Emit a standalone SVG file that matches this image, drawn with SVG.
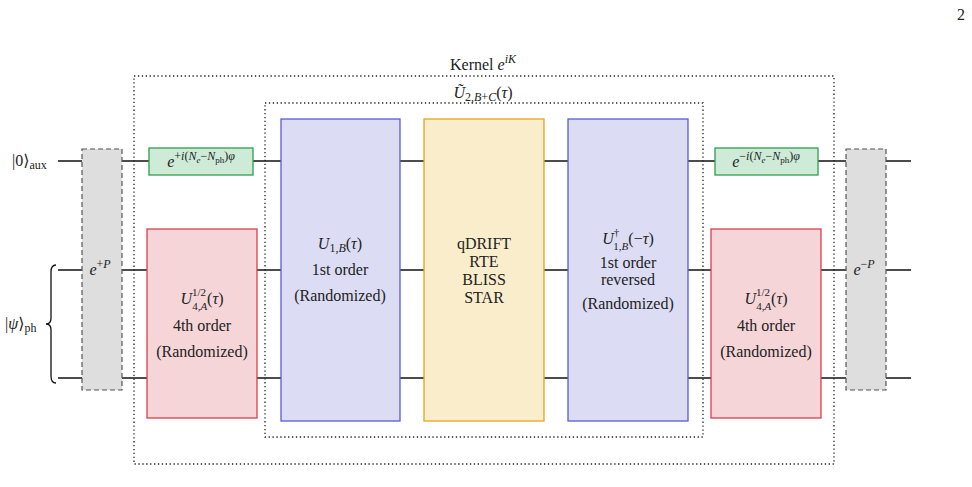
<svg xmlns="http://www.w3.org/2000/svg" width="972" height="487" viewBox="0 0 972 487" font-family="'Liberation Serif', 'DejaVu Serif', serif">
<style>
text{font-family:'Liberation Serif','DejaVu Serif',serif;fill:#222;}
.t{font-size:16px;text-anchor:middle;}
.m{font-style:italic;}
.s{font-size:12px;}
.s2{font-size:11px;}
.ss{font-size:9px;}
.wire{stroke:#111;stroke-width:1.3;fill:none;}
.dot{fill:none;stroke:#222;stroke-width:1.3;stroke-dasharray:1.3 2.6;}
.gray{fill:#dedede;stroke:#555;stroke-width:1.2;stroke-dasharray:5 3;}
.green{fill:#cdebd7;stroke:#2e9e50;stroke-width:1.3;}
.red{fill:#f6d5d9;stroke:#d8404e;stroke-width:1.3;}
.blue{fill:#dcddf4;stroke:#5a5ad4;stroke-width:1.3;}
.yellow{fill:#faedcc;stroke:#e5a41c;stroke-width:1.3;}
</style>
<text x="957" y="20" font-family="'Liberation Serif', serif" style="font-size:16px">2</text>
<g id="connectors">
<line class="wire" x1="58" y1="161" x2="911" y2="161"/>
<line class="wire" x1="58" y1="270" x2="911" y2="270"/>
<line class="wire" x1="58" y1="378" x2="911" y2="378"/>
<path class="wire" d="M56,265 Q51,265 51,272 L51,318 Q51,324 46,324 Q51,324 51,330 L51,376 Q51,383 56,383" stroke-width="1.2"/>
</g>
<g id="labels">
<text x="12" y="166" font-family="'Liberation Serif', serif" style="font-size:16px">|0⟩<tspan class="s" dy="3">aux</tspan></text>
<text x="5" y="329" font-family="'Liberation Serif', serif" style="font-size:16px">|<tspan class="m">ψ</tspan>⟩<tspan class="s" dy="3">ph</tspan></text>
</g>
<g id="kernel">
<rect class="dot" x="134" y="76" width="700" height="388"/>
<text class="t" x="483" y="70" font-family="'Liberation Serif', serif">Kernel <tspan class="m">e</tspan><tspan class="s m" dy="-7">iK</tspan></text>
</g>
<g id="u2">
<rect class="dot" x="265" y="103" width="438" height="334"/>
<text class="t" x="483" y="98" font-family="'Liberation Serif', serif"><tspan class="m">Ũ</tspan><tspan class="s" dy="3">2,<tspan class="m">B</tspan>+<tspan class="m">C</tspan></tspan><tspan dy="-3">(<tspan class="m">τ</tspan>)</tspan></text>
</g>
<g id="eP">
<rect class="gray" x="82" y="149" width="40" height="241"/>
<text class="t" x="100" y="275" font-family="'Liberation Serif', serif"><tspan class="m">e</tspan><tspan class="s" dy="-7">+<tspan class="m">P</tspan></tspan></text>
</g>
<g id="phase-left">
<rect class="green" x="149" y="148" width="104" height="27"/>
<text class="t" x="201" y="167" font-family="'Liberation Serif', serif"><tspan class="m">e</tspan><tspan class="s" dy="-7">+<tspan class="m">i</tspan>(<tspan class="m">N</tspan></tspan><tspan class="ss m" dy="2.5">e</tspan><tspan class="s" dy="-2.5">−<tspan class="m">N</tspan></tspan><tspan class="ss" dy="2.5">ph</tspan><tspan class="s" dy="-2.5">)<tspan class="m">φ</tspan></tspan></text>
</g>
<g id="u4-left">
<rect class="red" x="147" y="229" width="110" height="189"/>
<text class="t" x="202" y="304" font-family="'Liberation Serif', serif"><tspan class="m">U</tspan><tspan class="s2" dy="-8">1/2</tspan><tspan class="s2" dx="-14" dy="14">4,<tspan class="m">A</tspan></tspan><tspan dy="-6">(<tspan class="m">τ</tspan>)</tspan></text>
<text class="t" x="202" y="331" font-family="'Liberation Serif', serif">4th order</text>
<text class="t" x="202" y="357" font-family="'Liberation Serif', serif">(Randomized)</text>
</g>
<g id="u1">
<rect class="blue" x="281" y="119" width="119" height="302"/>
<text class="t" x="340" y="249" font-family="'Liberation Serif', serif"><tspan class="m">U</tspan><tspan class="s" dy="3">1,<tspan class="m">B</tspan></tspan><tspan dy="-3">(<tspan class="m">τ</tspan>)</tspan></text>
<text class="t" x="340" y="275" font-family="'Liberation Serif', serif">1st order</text>
<text class="t" x="340" y="301" font-family="'Liberation Serif', serif">(Randomized)</text>
</g>
<g id="methods">
<rect class="yellow" x="424" y="119" width="120" height="302"/>
<text class="t" x="484" y="249" font-family="'Liberation Serif', serif">qDRIFT</text>
<text class="t" x="484" y="267" font-family="'Liberation Serif', serif">RTE</text>
<text class="t" x="484" y="285" font-family="'Liberation Serif', serif">BLISS</text>
<text class="t" x="484" y="303" font-family="'Liberation Serif', serif">STAR</text>
</g>
<g id="u1-dagger">
<rect class="blue" x="568" y="119" width="120" height="302"/>
<text class="t" x="628" y="244" font-family="'Liberation Serif', serif"><tspan class="m">U</tspan><tspan class="s2" dy="-8">†</tspan><tspan class="s2" dx="-6" dy="14">1,<tspan class="m">B</tspan></tspan><tspan dy="-6">(−<tspan class="m">τ</tspan>)</tspan></text>
<text class="t" x="628" y="268" font-family="'Liberation Serif', serif">1st order</text>
<text class="t" x="628" y="285" font-family="'Liberation Serif', serif">reversed</text>
<text class="t" x="628" y="309" font-family="'Liberation Serif', serif">(Randomized)</text>
</g>
<g id="phase-right">
<rect class="green" x="715" y="148" width="103" height="27"/>
<text class="t" x="766" y="167" font-family="'Liberation Serif', serif"><tspan class="m">e</tspan><tspan class="s" dy="-7">−<tspan class="m">i</tspan>(<tspan class="m">N</tspan></tspan><tspan class="ss m" dy="2.5">e</tspan><tspan class="s" dy="-2.5">−<tspan class="m">N</tspan></tspan><tspan class="ss" dy="2.5">ph</tspan><tspan class="s" dy="-2.5">)<tspan class="m">φ</tspan></tspan></text>
</g>
<g id="u4-right">
<rect class="red" x="711" y="229" width="110" height="189"/>
<text class="t" x="766" y="304" font-family="'Liberation Serif', serif"><tspan class="m">U</tspan><tspan class="s2" dy="-8">1/2</tspan><tspan class="s2" dx="-14" dy="14">4,<tspan class="m">A</tspan></tspan><tspan dy="-6">(<tspan class="m">τ</tspan>)</tspan></text>
<text class="t" x="766" y="331" font-family="'Liberation Serif', serif">4th order</text>
<text class="t" x="766" y="357" font-family="'Liberation Serif', serif">(Randomized)</text>
</g>
<g id="eminusP">
<rect class="gray" x="846" y="149" width="40" height="241"/>
<text class="t" x="864" y="275" font-family="'Liberation Serif', serif"><tspan class="m">e</tspan><tspan class="s" dy="-7">−<tspan class="m">P</tspan></tspan></text>
</g>
</svg>
